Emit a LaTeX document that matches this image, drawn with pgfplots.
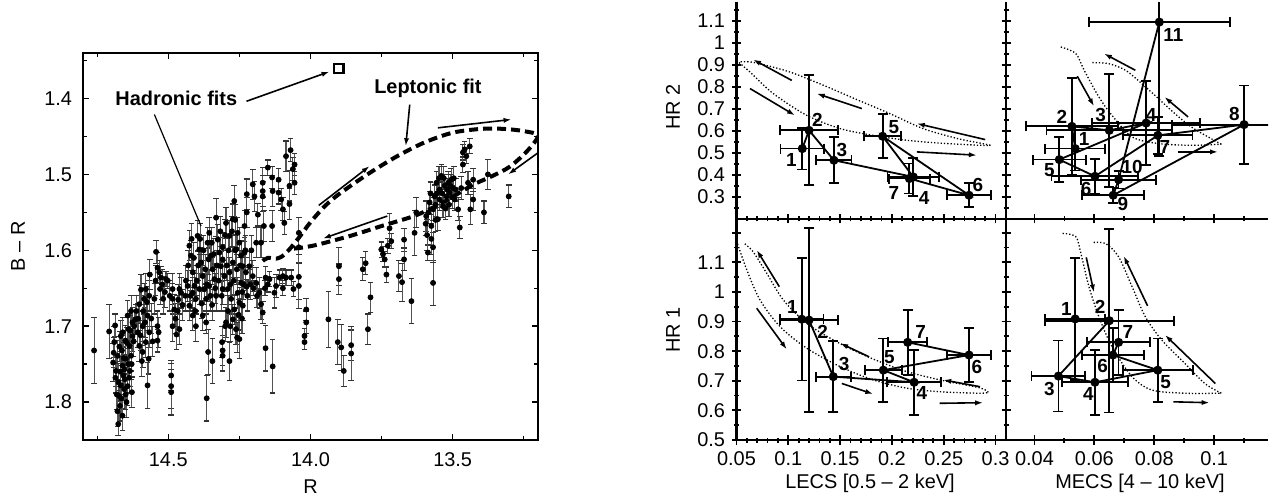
\documentclass[border=0pt]{standalone}
\usepackage{pgfplots}
\pgfplotsset{compat=1.18}
\usepackage{pgfplotstable}
\usepackage{fontspec}
\setmainfont{Liberation Sans}
\usetikzlibrary{arrows.meta}

\pgfplotstableread{
R B e
14.761 1.732 0.043
14.708 1.707 0.036
14.687 1.699 0.015
14.690 1.721 0.020
14.694 1.748 0.025
14.684 1.759 0.020
14.678 1.739 0.020
14.675 1.774 0.025
14.673 1.792 0.020
14.670 1.805 0.020
14.667 1.713 0.020
14.663 1.732 0.020
14.661 1.752 0.025
14.658 1.765 0.020
14.655 1.783 0.025
14.651 1.719 0.020
14.649 1.743 0.020
14.647 1.800 0.020
14.643 1.779 0.025
14.640 1.704 0.020
14.637 1.726 0.020
14.635 1.759 0.020
14.631 1.739 0.020
14.628 1.787 0.020
14.626 1.713 0.020
14.661 1.818 0.020
14.676 1.829 0.015
14.655 1.757 0.020
14.667 1.778 0.020
14.643 1.686 0.020
14.631 1.680 0.020
14.626 1.695 0.020
14.692 1.735 0.020
14.686 1.768 0.020
14.681 1.790 0.020
14.679 1.812 0.020
14.672 1.727 0.020
14.669 1.760 0.020
14.665 1.795 0.020
14.660 1.708 0.020
14.657 1.742 0.020
14.653 1.770 0.020
14.650 1.790 0.020
14.645 1.722 0.020
14.641 1.750 0.020
14.638 1.768 0.020
14.633 1.706 0.020
14.629 1.750 0.020
14.622 1.720 0.020
14.620 1.700 0.020
14.612 1.680 0.020
14.606 1.690 0.020
14.598 1.712 0.020
14.588 1.680 0.020
14.582 1.695 0.020
14.575 1.668 0.020
14.560 1.690 0.020
14.555 1.720 0.020
14.545 1.640 0.020
14.522 1.645 0.020
14.512 1.655 0.020
14.495 1.660 0.020
14.475 1.690 0.020
14.465 1.665 0.020
14.450 1.672 0.020
14.440 1.660 0.020
14.616 1.691 0.020
14.602 1.671 0.025
14.596 1.652 0.020
14.590 1.700 0.020
14.585 1.664 0.020
14.579 1.721 0.020
14.573 1.686 0.020
14.567 1.708 0.020
14.569 1.743 0.020
14.573 1.778 0.030
14.590 1.734 0.020
14.593 1.746 0.020
14.608 1.708 0.020
14.602 1.726 0.020
14.579 1.651 0.020
14.567 1.660 0.020
14.565 1.632 0.020
14.543 1.602 0.015
14.538 1.623 0.020
14.532 1.629 0.015
14.529 1.651 0.020
14.538 1.700 0.020
14.534 1.708 0.020
14.538 1.719 0.015
14.526 1.636 0.015
14.518 1.664 0.020
14.508 1.638 0.010
14.502 1.640 0.010
14.549 1.664 0.020
14.490 1.765 0.020
14.490 1.779 0.030
14.490 1.787 0.030
14.485 1.651 0.020
14.485 1.664 0.020
14.479 1.678 0.020
14.485 1.700 0.020
14.471 1.711 0.020
14.461 1.651 0.020
14.461 1.704 0.020
14.455 1.656 0.020
14.467 1.680 0.020
14.426 1.594 0.020
14.420 1.607 0.020
14.414 1.629 0.020
14.408 1.647 0.020
14.403 1.664 0.020
14.426 1.673 0.020
14.414 1.686 0.020
14.403 1.700 0.020
14.397 1.581 0.020
14.391 1.599 0.020
14.385 1.616 0.020
14.379 1.634 0.020
14.373 1.651 0.020
14.367 1.664 0.020
14.362 1.590 0.020
14.356 1.577 0.020
14.350 1.607 0.020
14.344 1.625 0.020
14.338 1.638 0.020
14.332 1.557 0.025
14.326 1.586 0.020
14.320 1.603 0.020
14.315 1.621 0.020
14.309 1.596 0.020
14.367 1.695 0.015
14.346 1.672 0.020
14.379 1.686 0.020
14.414 1.656 0.020
14.432 1.647 0.020
14.391 1.651 0.020
14.356 1.647 0.020
14.332 1.660 0.020
14.438 1.640 0.020
14.430 1.620 0.020
14.422 1.660 0.020
14.418 1.585 0.020
14.410 1.610 0.020
14.405 1.680 0.020
14.400 1.640 0.020
14.395 1.620 0.020
14.388 1.585 0.020
14.383 1.670 0.020
14.376 1.600 0.020
14.370 1.625 0.020
14.364 1.645 0.020
14.358 1.612 0.020
14.352 1.660 0.020
14.347 1.590 0.020
14.340 1.605 0.020
14.335 1.650 0.020
14.329 1.620 0.020
14.323 1.640 0.020
14.317 1.575 0.020
14.312 1.660 0.020
14.297 1.564 0.020
14.285 1.581 0.020
14.273 1.559 0.020
14.268 1.535 0.020
14.262 1.599 0.020
14.256 1.577 0.020
14.250 1.590 0.020
14.244 1.607 0.020
14.238 1.621 0.020
14.232 1.603 0.020
14.227 1.629 0.020
14.309 1.612 0.020
14.303 1.634 0.020
14.291 1.651 0.020
14.279 1.664 0.020
14.268 1.678 0.020
14.256 1.656 0.020
14.250 1.669 0.020
14.244 1.643 0.020
14.238 1.673 0.020
14.273 1.691 0.020
14.262 1.704 0.020
14.297 1.695 0.020
14.285 1.629 0.020
14.273 1.616 0.020
14.250 1.717 0.025
14.309 1.651 0.020
14.232 1.568 0.020
14.224 1.550 0.020
14.224 1.526 0.020
14.300 1.580 0.020
14.294 1.620 0.020
14.288 1.600 0.020
14.282 1.645 0.020
14.276 1.575 0.020
14.270 1.640 0.020
14.265 1.600 0.020
14.259 1.625 0.020
14.253 1.685 0.020
14.247 1.620 0.020
14.241 1.690 0.020
14.235 1.645 0.020
14.229 1.600 0.020
14.222 1.660 0.020
14.265 1.560 0.020
14.282 1.700 0.020
14.258 1.715 0.020
14.290 1.680 0.020
14.300 1.700 0.020
14.212 1.645 0.020
14.208 1.600 0.020
14.215 1.621 0.020
14.203 1.634 0.020
14.191 1.643 0.020
14.180 1.656 0.020
14.174 1.671 0.020
14.168 1.682 0.015
14.191 1.590 0.020
14.185 1.553 0.015
14.174 1.590 0.020
14.168 1.529 0.020
14.158 1.636 0.015
14.144 1.638 0.010
14.127 1.656 0.020
14.121 1.647 0.015
14.109 1.636 0.010
14.097 1.634 0.010
14.086 1.636 0.010
14.068 1.636 0.010
14.060 1.651 0.010
14.240 1.655 0.010
14.225 1.648 0.010
14.200 1.650 0.010
14.188 1.660 0.015
14.160 1.650 0.010
14.150 1.645 0.010
14.133 1.522 0.020
14.135 1.568 0.020
14.041 1.577 0.020
14.041 1.596 0.020
14.041 1.635 0.030
14.041 1.647 0.030
14.133 1.753 0.035
14.158 1.729 0.030
14.360 1.734 0.030
14.345 1.746 0.030
14.365 1.795 0.030
14.309 1.732 0.020
14.309 1.739 0.020
14.285 1.746 0.025
14.311 1.721 0.020
14.015 1.678 0.015
14.015 1.695 0.015
14.021 1.713 0.010
14.021 1.721 0.010
14.203 1.513 0.020
14.197 1.529 0.020
14.168 1.511 0.020
14.168 1.522 0.020
14.164 1.568 0.020
14.150 1.491 0.010
14.135 1.504 0.015
14.112 1.507 0.015
14.112 1.524 0.015
14.103 1.533 0.015
14.097 1.546 0.015
14.092 1.564 0.015
14.086 1.476 0.020
14.070 1.468 0.015
14.074 1.515 0.020
14.074 1.539 0.020
14.062 1.493 0.015
14.056 1.487 0.015
14.056 1.511 0.015
14.097 1.650 0.010
13.937 1.691 0.037
13.900 1.621 0.025
13.900 1.638 0.020
13.904 1.721 0.030
13.892 1.728 0.030
13.883 1.759 0.020
13.857 1.725 0.020
13.857 1.736 0.035
13.816 1.625 0.015
13.806 1.617 0.015
13.798 1.704 0.020
13.789 1.662 0.020
13.751 1.599 0.010
13.745 1.605 0.010
13.739 1.612 0.010
13.733 1.632 0.010
13.728 1.594 0.010
13.722 1.571 0.020
13.716 1.588 0.010
13.689 1.634 0.020
13.678 1.642 0.025
13.671 1.586 0.015
13.671 1.612 0.015
13.645 1.667 0.030
13.634 1.577 0.030
13.628 1.550 0.020
13.593 1.555 0.020
13.587 1.603 0.010
13.581 1.537 0.015
13.575 1.568 0.015
13.569 1.643 0.030
13.569 1.596 0.020
13.569 1.546 0.015
13.563 1.529 0.015
13.557 1.511 0.015
13.552 1.559 0.015
13.546 1.520 0.015
13.546 1.533 0.015
13.540 1.502 0.015
13.534 1.542 0.015
13.528 1.515 0.015
13.522 1.529 0.015
13.516 1.511 0.015
13.511 1.524 0.015
13.505 1.507 0.015
13.499 1.518 0.015
13.493 1.533 0.015
13.481 1.546 0.015
13.475 1.570 0.015
13.470 1.518 0.015
13.595 1.565 0.015
13.585 1.550 0.015
13.578 1.525 0.015
13.560 1.540 0.015
13.555 1.525 0.015
13.548 1.505 0.015
13.537 1.525 0.015
13.531 1.505 0.015
13.525 1.545 0.015
13.519 1.520 0.015
13.513 1.540 0.015
13.508 1.515 0.015
13.502 1.530 0.015
13.496 1.505 0.015
13.489 1.520 0.015
13.560 1.560 0.015
13.575 1.585 0.020
13.590 1.580 0.020
13.464 1.471 0.010
13.464 1.487 0.010
13.458 1.467 0.010
13.452 1.476 0.010
13.440 1.463 0.010
13.446 1.511 0.015
13.438 1.546 0.020
13.428 1.533 0.015
13.428 1.507 0.015
13.390 1.550 0.015
13.376 1.500 0.020
13.303 1.529 0.015
}\colordata

\pgfplotstableread{
x y ex ey
0.1135 0.520 0.021 0.095
0.120 0.603 0.028 0.25
0.144 0.467 0.017 0.105
0.2207 0.391 0.025 0.087
0.191 0.576 0.018 0.10
0.2744 0.308 0.021 0.055
0.2168 0.384 0.020 0.068
}\tldata

\pgfplotstableread{
x y ex ey
0.0536 0.520 0.010 0.10
0.0525 0.621 0.0153 0.22
0.065 0.603 0.021 0.256
0.0773 0.636 0.018 0.19
0.0483 0.470 0.0088 0.103
0.0602 0.394 0.0145 0.08
0.0812 0.580 0.0116 0.085
0.110 0.629 0.024 0.178
0.0663 0.308 0.0103 0.035
0.0681 0.379 0.0125 0.04
0.0817 1.095 0.0236 0.61
}\trdata

\pgfplotstableread{
x y ex ey
0.113 0.908 0.021 0.207
0.120 0.905 0.028 0.31
0.1434 0.714 0.017 0.12
0.2214 0.695 0.026 0.11
0.1917 0.736 0.018 0.107
0.2744 0.787 0.021 0.092
0.2152 0.830 0.019 0.11
}\bldata

\pgfplotstableread{
x y ex ey
0.0536 0.909 0.010 0.206
0.065 0.903 0.0215 0.31
0.048 0.716 0.009 0.12
0.0602 0.695 0.011 0.11
0.0812 0.736 0.0117 0.107
0.0662 0.787 0.0103 0.092
0.0681 0.830 0.0105 0.11
}\brdata

\tikzset{
  fl/.style={black, line width=0.8bp, -{Latex[length=4bp,width=2.6bp]}},
  num/.style={font=\bfseries\fontsize{9.5}{11}\selectfont, inner sep=0pt},
}
\pgfplotsset{
  hrpanel/.style={
    scale only axis, anchor=south west,
    axis x line=bottom, axis y line=left,
    axis line style={-, line width=1.3bp},
    tick align=center,
    major tick length=4.5bp, minor tick length=2.5bp,
    every tick/.style={black, line width=0.9bp},
    /pgf/number format/assume math mode=true,
    scaled ticks=false,
    xticklabel style={/pgf/number format/fixed, /pgf/number format/precision=2},
    yticklabel style={/pgf/number format/fixed, /pgf/number format/precision=2},
    clip=true,
  },
  hrdata/.style={black, line width=0.9bp, mark=*, mark size=1.8bp,
    mark options={solid, fill=black},
    error bars/.cd, x dir=both, x explicit, y dir=both, y explicit,
    error bar style={line width=0.9bp, black},
    error mark options={rotate=90, line width=0.9bp, mark size=2.5bp, black}},
  model/.style={black, densely dotted, line width=0.65bp, smooth, no marks},
}

\begin{document}
\fontsize{10}{12}\selectfont
\begin{tikzpicture}
\useasboundingbox (0,0) rectangle (638bp,250bp);

% ---------------- left panel ----------------
\begin{axis}[
  at={(41.5bp,30bp)}, anchor=south west, scale only axis,
  width=227.5bp, height=193.5bp,
  xmin=13.2, xmax=14.8, x dir=reverse,
  ymin=1.34, ymax=1.85, y dir=reverse,
  xtick={13.5,14,14.5}, minor xtick={13.25,13.75,14.25,14.75},
  ytick={1.4,1.5,1.6,1.7,1.8}, minor ytick={1.35,1.45,1.55,1.65,1.75,1.85},
  tick align=inside, major tick length=3bp, minor tick length=2bp,
  every tick/.style={black, line width=0.7bp},
  axis line style={line width=0.9bp},
  /pgf/number format/assume math mode=true,
  xticklabel style={/pgf/number format/fixed, /pgf/number format/fixed zerofill, /pgf/number format/precision=1, yshift=-3bp},
  yticklabel style={/pgf/number format/fixed, /pgf/number format/fixed zerofill, /pgf/number format/precision=1, xshift=-2bp},
  xlabel={R}, ylabel={B -- R},
  xlabel style={at={(axis description cs:0.5,-0.121)}, anchor=center},
  ylabel style={at={(axis description cs:-0.143,0.5)}, anchor=center},
]
\addplot[only marks, mark=*, mark size=1.25bp, black,
  error bars/.cd, y dir=both, y explicit,
  error bar style={gray!65!black, line width=0.55bp},
  error mark options={rotate=90, gray!40!black, line width=0.55bp, mark size=1.4bp}]
  table[x=R, y=B, y error=e] {\colordata};
% leptonic loop
\addplot[black, line width=2bp, dash pattern=on 4.5bp off 2.5bp, smooth, no marks] coordinates {
 (14.168,1.614) (14.150,1.610) (14.120,1.611) (14.100,1.608) (14.085,1.603) (14.070,1.597)
 (14.040,1.583) (14.000,1.563) (13.950,1.542) (13.900,1.526) (13.800,1.500) (13.700,1.477)
 (13.600,1.458) (13.500,1.445) (13.400,1.440) (13.320,1.440) (13.250,1.443) (13.200,1.449)
 (13.240,1.470) (13.300,1.490) (13.360,1.502) (13.430,1.514) (13.530,1.536) (13.630,1.554)
 (13.750,1.568) (13.860,1.581) (13.980,1.593) (14.040,1.597) (14.070,1.598)};
% hadronic fit
\addplot[only marks, mark=square, mark size=2.3bp, line width=1.3bp, black] coordinates {(13.901,1.3605)};
\node[font=\bfseries\fontsize{10}{12}\selectfont] at (axis cs:14.472,1.4004) {Hadronic fits};
\node[font=\bfseries\fontsize{10}{12}\selectfont] at (axis cs:13.587,1.386) {Leptonic fit};
\draw[fl] (axis cs:14.225,1.4036) -- (axis cs:13.933,1.3645);
\draw[black, line width=0.6bp] (axis cs:14.549,1.421) -- (axis cs:14.385,1.568);
\draw[fl] (axis cs:13.651,1.408) -- (axis cs:13.665,1.4628);
\draw[fl] (axis cs:13.971,1.5408) -- (axis cs:13.792,1.489);
\draw[fl] (axis cs:13.730,1.5549) -- (axis cs:13.957,1.5846);
\draw[fl] (axis cs:13.552,1.4386) -- (axis cs:13.293,1.4276);
\draw[fl] (axis cs:13.200,1.4715) -- (axis cs:13.305,1.500);
\end{axis}

% ---------------- top left: HR2 vs LECS ----------------
\begin{axis}[hrpanel,
  at={(368.25bp,140.5bp)}, width=134.75bp, height=108.35bp,
  xmin=0.05, xmax=0.3101, ymin=0.2, ymax=1.185,
  xtick={0.05,0.1,0.15,0.2,0.25,0.3}, minor x tick num=4, xticklabels={},
  ytick={0.3,0.4,0.5,0.6,0.7,0.8,0.9,1,1.1},
  minor ytick={0.25,0.35,0.45,0.55,0.65,0.75,0.85,0.95,1.05,1.15},
  ylabel={HR 2},
  ylabel style={at={(axis description cs:-0.2356,0.517)}, anchor=center},
]
\addplot[model] coordinates {(0.05,0.921) (0.063,0.868) (0.0855,0.77) (0.1178,0.671) (0.15,0.611) (0.182,0.58) (0.214,0.558) (0.246,0.545) (0.285,0.535) (0.295,0.535)};
\addplot[model] coordinates {(0.295,0.535) (0.285,0.545) (0.263,0.566) (0.230,0.611) (0.198,0.679) (0.166,0.743) (0.1338,0.808) (0.1016,0.868) (0.0695,0.909) (0.058,0.915) (0.053,0.914)};
\addplot[hrdata] table[x=x, y=y, x error=ex, y error=ey] {\tldata};
\draw[fl] (axis cs:0.1033,0.83) -- (axis cs:0.066,0.925);
\draw[fl] (axis cs:0.063,0.793) -- (axis cs:0.1065,0.671);
\draw[fl] (axis cs:0.171,0.702) -- (axis cs:0.1274,0.77);
\draw[fl] (axis cs:0.29,0.561) -- (axis cs:0.224,0.634);
\draw[fl] (axis cs:0.224,0.505) -- (axis cs:0.282,0.49);
\node[num] at (axis cs:0.103,0.47) {1};
\node[num] at (axis cs:0.128,0.652) {2};
\node[num] at (axis cs:0.1516,0.512) {3};
\node[num] at (axis cs:0.231,0.297) {4};
\node[num] at (axis cs:0.202,0.618) {5};
\node[num] at (axis cs:0.283,0.353) {6};
\node[num] at (axis cs:0.202,0.318) {7};
\end{axis}

% ---------------- top right: HR2 vs MECS ----------------
\begin{axis}[hrpanel,
  at={(503bp,140.5bp)}, width=131bp, height=108.35bp,
  xmin=0.0305, xmax=0.118, ymin=0.2, ymax=1.185,
  xtick={0.04,0.06,0.08,0.1}, minor xtick={0.05,0.07,0.09,0.11}, xticklabels={},
  ytick={0.3,0.4,0.5,0.6,0.7,0.8,0.9,1,1.1}, yticklabels={},
  minor ytick={0.25,0.35,0.45,0.55,0.65,0.75,0.85,0.95,1.05,1.15},
]
\addplot[model] coordinates {(0.0488,0.982) (0.0538,0.952) (0.0566,0.876) (0.0615,0.755) (0.0659,0.671) (0.0726,0.573) (0.0814,0.543) (0.0924,0.535) (0.1024,0.54)};
\addplot[model] coordinates {(0.1024,0.54) (0.098,0.573) (0.0924,0.618) (0.0869,0.679) (0.0814,0.747) (0.0759,0.815) (0.0704,0.876) (0.0648,0.906) (0.0588,0.911)};
\addplot[hrdata] table[x=x, y=y, x error=ex, y error=ey] {\trdata};
\draw[fl] (axis cs:0.0737,0.876) -- (axis cs:0.0632,0.952);
\draw[fl] (axis cs:0.0543,0.849) -- (axis cs:0.0599,0.712);
\draw[fl] (axis cs:0.0913,0.664) -- (axis cs:0.0834,0.755);
\draw[fl] (axis cs:0.0878,0.505) -- (axis cs:0.1013,0.505);
\node[num] at (axis cs:0.0566,0.565) {1};
\node[num] at (axis cs:0.0492,0.664) {2};
\node[num] at (axis cs:0.0621,0.671) {3};
\node[num] at (axis cs:0.079,0.671) {4};
\node[num] at (axis cs:0.045,0.421) {5};
\node[num] at (axis cs:0.0573,0.338) {6};
\node[num] at (axis cs:0.0836,0.527) {7};
\node[num] at (axis cs:0.1068,0.676) {8};
\node[num] at (axis cs:0.0695,0.267) {9};
\node[num] at (axis cs:0.0726,0.436) {10};
\node[num] at (axis cs:0.0864,1.035) {11};
\end{axis}

% ---------------- bottom left: HR1 vs LECS ----------------
\begin{axis}[hrpanel,
  at={(368.25bp,30bp)}, width=134.75bp, height=110.5bp,
  xmin=0.05, xmax=0.3101, ymin=0.5, ymax=1.2466,
  xtick={0.05,0.1,0.15,0.2,0.25,0.3}, minor x tick num=4,
  ytick={0.5,0.6,0.7,0.8,0.9,1,1.1,1.2},
  yticklabels={0.5,0.6,0.7,0.8,0.9,1,1.1,{}},
  minor ytick={0.55,0.65,0.75,0.85,0.95,1.05,1.15},
  ylabel={HR 1}, xlabel={LECS [0.5 -- 2 keV]},
  ylabel style={at={(axis description cs:-0.2356,0.498)}, anchor=center},
  xlabel style={at={(axis description cs:0.4954,-0.1946)}, anchor=center},
]
\addplot[model] coordinates {(0.05,1.173) (0.06,1.074) (0.0727,0.973) (0.092,0.883) (0.1178,0.81) (0.15,0.748) (0.182,0.703) (0.2143,0.675) (0.246,0.663) (0.285,0.658) (0.293,0.661)};
\addplot[model] coordinates {(0.293,0.661) (0.285,0.676) (0.2464,0.703) (0.2143,0.731) (0.1885,0.764) (0.166,0.798) (0.1434,0.838) (0.1178,0.894) (0.0952,0.973) (0.0792,1.063) (0.066,1.136) (0.0566,1.167)};
\addplot[hrdata] table[x=x, y=y, x error=ex, y error=ey] {\bldata};
\draw[fl] (axis cs:0.0913,1.018) -- (axis cs:0.0695,1.142);
\draw[fl] (axis cs:0.0695,0.945) -- (axis cs:0.0985,0.806);
\draw[fl] (axis cs:0.178,0.781) -- (axis cs:0.15,0.827);
\draw[fl] (axis cs:0.1516,0.691) -- (axis cs:0.182,0.655);
\draw[fl] (axis cs:0.285,0.68) -- (axis cs:0.2495,0.703);
\draw[fl] (axis cs:0.246,0.624) -- (axis cs:0.288,0.626);
\node[num] at (axis cs:0.1039,0.948) {1};
\node[num] at (axis cs:0.1332,0.866) {2};
\node[num] at (axis cs:0.1538,0.757) {3};
\node[num] at (axis cs:0.2288,0.658) {4};
\node[num] at (axis cs:0.1975,0.779) {5};
\node[num] at (axis cs:0.282,0.748) {6};
\node[num] at (axis cs:0.2278,0.866) {7};
\end{axis}

% ---------------- bottom right: HR1 vs MECS ----------------
\begin{axis}[hrpanel,
  at={(503bp,30bp)}, width=131bp, height=110.5bp,
  xmin=0.0305, xmax=0.118, ymin=0.5, ymax=1.2466,
  xtick={0.04,0.06,0.08,0.1}, minor xtick={0.05,0.07,0.09,0.11},
  ytick={0.5,0.6,0.7,0.8,0.9,1,1.1,1.2}, yticklabels={},
  minor ytick={0.55,0.65,0.75,0.85,0.95,1.05,1.15},
  xlabel={MECS [4 -- 10 keV]},
  xlabel style={at={(axis description cs:0.5115,-0.1946)}, anchor=center},
]
\addplot[model] coordinates {(0.0494,1.198) (0.0538,1.187) (0.0555,1.131) (0.0582,1.018) (0.0615,0.917) (0.0659,0.815) (0.0726,0.714) (0.0792,0.669) (0.0902,0.658) (0.1024,0.658)};
\addplot[model] coordinates {(0.1024,0.658) (0.0969,0.691) (0.0902,0.759) (0.0825,0.838) (0.077,0.917) (0.0726,1.018) (0.0681,1.119) (0.0637,1.164) (0.0591,1.167)};
\addplot[hrdata] table[x=x, y=y, x error=ex, y error=ey] {\brdata};
\draw[fl] (axis cs:0.0573,1.117) -- (axis cs:0.0599,0.998);
\draw[fl] (axis cs:0.0778,0.953) -- (axis cs:0.0698,1.122);
\draw[fl] (axis cs:0.1004,0.691) -- (axis cs:0.0836,0.855);
\draw[fl] (axis cs:0.0864,0.629) -- (axis cs:0.0985,0.626);
\node[num] at (axis cs:0.0507,0.941) {1};
\node[num] at (axis cs:0.0619,0.948) {2};
\node[num] at (axis cs:0.045,0.671) {3};
\node[num] at (axis cs:0.058,0.655) {4};
\node[num] at (axis cs:0.0838,0.694) {5};
\node[num] at (axis cs:0.0628,0.75) {6};
\node[num] at (axis cs:0.0712,0.866) {7};
\end{axis}
\end{tikzpicture}
\end{document}
